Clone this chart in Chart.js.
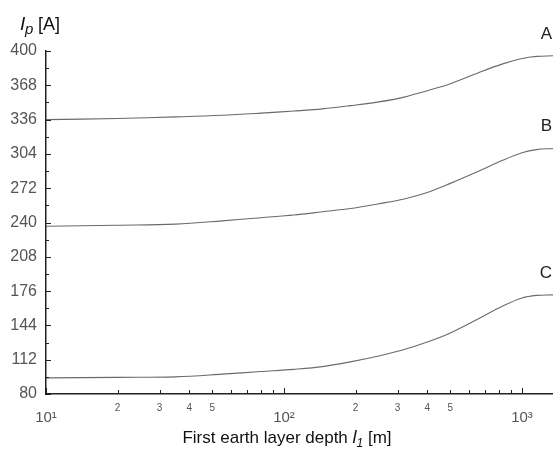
<!DOCTYPE html>
<html>
<head>
<meta charset="utf-8">
<script src="https://cdn.jsdelivr.net/npm/chart.js@4/dist/chart.umd.min.js"></script>
<style>
html,body{margin:0;padding:0;background:#fff;}
#wrap{width:553px;height:454px;position:relative;}
</style>
</head>
<body>
<div id="wrap"><canvas id="c" width="553" height="454"></canvas></div>
<script>
// ---- data ----
const depths   = [10, 20, 35, 55, 80, 110, 145, 190, 250, 320, 400, 500, 660, 830, 1000, 1150, 1350];
const currentA = [336, 337, 338.5, 340, 342, 344, 346, 349, 352.5, 357, 363, 369.5, 380, 388, 393, 395, 395.5];
const currentB = [236.5, 237.5, 238.5, 241.5, 244.5, 247, 250, 253, 257.5, 262, 268, 276.5, 288, 298, 305, 308, 309];
const currentC = [95, 95.5, 96, 98.5, 101, 103, 105.5, 110, 115.5, 121.5, 128.5, 137, 150.5, 162, 169.5, 172, 172.5];
const seriesNames = ['A', 'B', 'C'];
const yTickLabels = [80, 112, 144, 176, 208, 240, 272, 304, 336, 368, 400];
const xMinorLabels = ['2', '3', '4', '5'];
const xMajorLabels = ['10\u00B9', '10\u00B2', '10\u00B3'];

const FONT = "'Liberation Sans', Arial, sans-serif";

function pts(ys){ return depths.map((x,i)=>({x:x, y:ys[i]})); }

const lineStyle = {borderColor:'rgba(80,80,80,0.85)', borderWidth:1.1, pointRadius:0, fill:false, tension:0.35};

const extras = {
  id:'extras',
  afterDraw(chart){
    const ctx = chart.ctx, xs = chart.scales.x, ys = chart.scales.y, ca = chart.chartArea;
    ctx.save();
    ctx.strokeStyle = '#222'; ctx.lineWidth = 1;
    // inward x ticks
    xs.ticks.forEach(t=>{
      const px = Math.round(xs.getPixelForValue(t.value))+0.5;
      const len = t.major ? 6 : 4;
      ctx.beginPath(); ctx.moveTo(px, ca.bottom); ctx.lineTo(px, ca.bottom-len); ctx.stroke();
    });
    // inward y ticks
    ys.ticks.forEach(t=>{
      const py = Math.round(ys.getPixelForValue(t.value))+0.5;
      const len = yTickLabels.includes(t.value) ? 5 : 3;
      ctx.beginPath(); ctx.moveTo(ca.left, py); ctx.lineTo(ca.left+len, py); ctx.stroke();
    });
    // series labels A, B, C
    ctx.fillStyle = '#222';
    ctx.font = '17px ' + FONT;
    ctx.textAlign = 'right'; ctx.textBaseline = 'middle';
    chart.data.datasets.forEach((ds, i)=>{
      const last = ds.data[ds.data.length-1];
      const py = ys.getPixelForValue(last.y);
      ctx.fillText(seriesNames[i], ca.right - 1, py - 22);
    });
    // y title: I_p [A]
    ctx.textAlign = 'left'; ctx.textBaseline = 'alphabetic';
    ctx.fillStyle = '#111';
    ctx.font = 'italic 19px ' + FONT;
    ctx.fillText('I', 20, 30);
    ctx.font = 'italic 15px ' + FONT;
    ctx.fillText('p', 25, 34);
    ctx.font = '18px ' + FONT;
    ctx.fillText('[A]', 38, 30);
    // x title
    const parts = [
      {t:'First earth layer depth ', f:'17px '+FONT, dy:0},
      {t:'l', f:'italic 18px '+FONT, dy:0},
      {t:'1', f:'italic 12px '+FONT, dy:4},
      {t:' [m]', f:'17px '+FONT, dy:0}
    ];
    let total = 0;
    parts.forEach(p=>{ ctx.font = p.f; p.w = ctx.measureText(p.t).width; total += p.w; });
    let x0 = 287 - total/2;
    parts.forEach(p=>{ ctx.font = p.f; ctx.fillText(p.t, x0, 443 + p.dy); x0 += p.w; });
    ctx.restore();
  }
};

new Chart(document.getElementById('c'), {
  type:'line',
  data:{
    datasets:[
      Object.assign({label:seriesNames[0], data:pts(currentA)}, lineStyle),
      Object.assign({label:seriesNames[1], data:pts(currentB)}, lineStyle),
      Object.assign({label:seriesNames[2], data:pts(currentC)}, lineStyle)
    ]
  },
  options:{
    responsive:false,
    animation:false,
    layout:{padding:{top:51, right:0, left:0, bottom:0}},
    plugins:{legend:{display:false}, tooltip:{enabled:false}},
    scales:{
      x:{
        type:'logarithmic', min:10, max:1350,
        border:{display:true, color:'#222', width:1.5},
        grid:{drawOnChartArea:false, drawTicks:false},
        afterBuildTicks(scale){
          const t = [];
          for (let d = 1; d <= 3; d++) {
            for (let m = 1; m <= 9; m++) {
              const v = m * Math.pow(10, d);
              if (v <= 1350) t.push({value:v, major: m === 1});
            }
          }
          scale.ticks = t;
        },
        afterFit(scale){ scale.height = 60; },
        ticks:{
          autoSkip:false, maxRotation:0, padding:8, color:'#555',
          font(ctx){
            const major = ctx.tick && ctx.tick.major;
            return major ? {family:FONT, size:15, lineHeight:0.72} : {family:FONT, size:10, lineHeight:1.2};
          },
          callback(value){
            const d = Math.floor(Math.log10(value) + 1e-9);
            const m = Math.round(value / Math.pow(10, d));
            if (m === 1) return ['', xMajorLabels[d-1]];
            if (m >= 2 && m <= 5) return xMinorLabels[m-2];
            return '';
          }
        }
      },
      y:{
        min:80, max:400,
        border:{display:true, color:'#222', width:1.5},
        grid:{drawOnChartArea:false, drawTicks:false},
        afterFit(scale){ scale.width = 46; },
        ticks:{
          stepSize:16, padding:9, color:'#555', autoSkip:false,
          font:{family:FONT, size:16},
          callback(v){ return yTickLabels.includes(v) ? String(v) : ''; }
        }
      }
    }
  },
  plugins:[extras]
});
</script>
</body>
</html>
